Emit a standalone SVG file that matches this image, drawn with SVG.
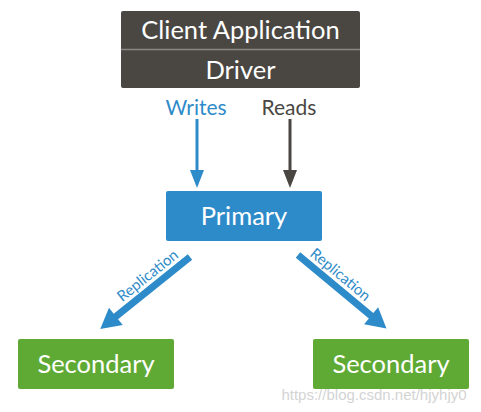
<svg xmlns="http://www.w3.org/2000/svg" width="481" height="412" viewBox="0 0 481 412">
<style>
.lbl{font-family:Lato,"Open Sans",sans-serif;fill:#fff;text-anchor:middle}
.big{font-size:25.5px}
.rep{font-family:Lato,"Open Sans",sans-serif;font-size:15px;fill:#2e8bc9;text-anchor:middle}
</style>
<rect width="481" height="412" fill="#fff"/>
<g id="client">
<rect x="121" y="11" width="239" height="77" rx="2" fill="#4a4743"/>
<line x1="121" y1="49.5" x2="360" y2="49.5" stroke="#8a8884" stroke-width="1.5"/>
<text class="lbl big" x="240.5" y="39">Client Application</text>
<text class="lbl big" x="240.5" y="79">Driver</text>
</g>
<g id="primary">
<rect x="166" y="191" width="156" height="50" rx="2" fill="#2e8bc9"/>
<text class="lbl big" x="244" y="225">Primary</text>
</g>
<g id="secondary1">
<rect x="18" y="339" width="156" height="50" rx="2" fill="#5faa35"/>
<text class="lbl big" x="96" y="373">Secondary</text>
</g>
<g id="secondary2">
<rect x="313" y="339" width="156" height="50" rx="2" fill="#5faa35"/>
<text class="lbl big" x="391" y="373">Secondary</text>
</g>
<g id="connectors">
<text x="196" y="115" font-family="Lato,'Open Sans',sans-serif" font-size="21" fill="#2e8bc9" text-anchor="middle">Writes</text>
<text x="289" y="115" font-family="Lato,'Open Sans',sans-serif" font-size="21" fill="#4a4743" text-anchor="middle">Reads</text>
<line x1="197" y1="119" x2="197" y2="172" stroke="#2e8bc9" stroke-width="3"/>
<polygon points="190,170 204,170 197,188" fill="#2e8bc9"/>
<line x1="290" y1="119" x2="290" y2="172" stroke="#4a4743" stroke-width="3"/>
<polygon points="283,170 297,170 290,188" fill="#4a4743"/>
<g transform="translate(190,257) rotate(141.3)">
<polygon points="0,-3.5 95,-3.5 95,-11 115,0 95,11 95,3.5 0,3.5" fill="#2e8bc9"/>
</g>
<g transform="translate(298,255) rotate(39.7)">
<polygon points="0,-3.5 95,-3.5 95,-11 115,0 95,11 95,3.5 0,3.5" fill="#2e8bc9"/>
</g>
<text class="rep" transform="translate(148,276) rotate(-38.7)" x="0" y="4.5">Replication</text>
<text class="rep" transform="translate(340,275) rotate(39.7)" x="0" y="4.5">Replication</text>
</g>
<text x="374" y="400" font-family="'Liberation Sans',Arial,sans-serif" font-size="15" fill="#d4d4d4" text-anchor="middle">https://blog.csdn.net/hjyhjy0</text>
</svg>
